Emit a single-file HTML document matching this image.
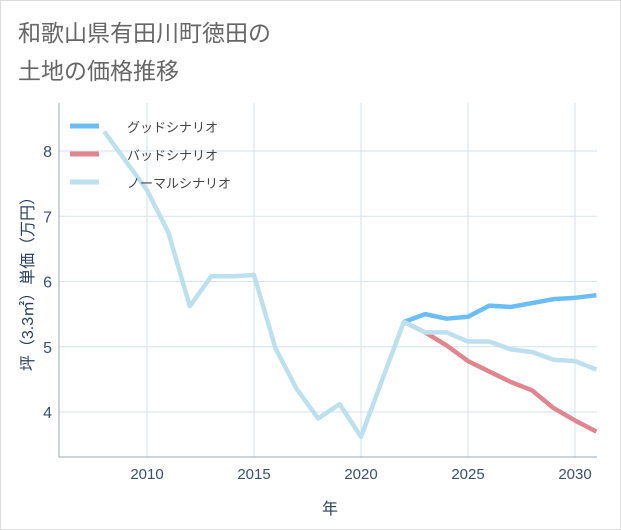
<!DOCTYPE html>
<html><head><meta charset="utf-8"><style>
body{margin:0;background:#fff;font-family:"Liberation Sans","Noto Sans CJK JP",sans-serif}
#wrap{position:relative;width:621px;height:530px;box-sizing:border-box;border:1px solid #ddd;background:#fff}
</style></head><body>
<div id="wrap">
<svg id="chart" width="621" height="530" style="position:absolute;left:-1px;top:-1px">
<text x="18" y="41" font-size="23" fill="#666">和歌山県有田川町徳田の</text>
<text x="18" y="79" font-size="23" fill="#666">土地の価格推移</text>
<g id="grid"></g><g id="series"></g><g id="axes"></g>
<text x="330" y="514" font-size="16" fill="#2a3f5f" text-anchor="middle">年</text>
<text transform="translate(33,280) rotate(-90)" font-size="16" fill="#2a3f5f" text-anchor="middle">坪（3.3㎡）単価（万円）</text>
<g>
<line x1="70" y1="126" x2="99" y2="126" stroke="#6bbdf5" stroke-width="5"/>
<text x="127" y="132" font-size="13" fill="#444">グッドシナリオ</text>
<line x1="70" y1="154" x2="99" y2="154" stroke="#e0868f" stroke-width="5"/>
<text x="127" y="160" font-size="13" fill="#444">バッドシナリオ</text>
<line x1="70" y1="182" x2="99" y2="182" stroke="#bde0ee" stroke-width="5"/>
<text x="127" y="188" font-size="13" fill="#444">ノーマルシナリオ</text>
</g>
</svg></div>
<script>
const normalYears=[2008,2009,2010,2011,2012,2013,2014,2015,2016,2017,2018,2019,2020,2021,2022,2023,2024,2025,2026,2027,2028,2029,2030,2031];
const normalValues=[8.3,7.85,7.4,6.75,5.62,6.08,6.08,6.1,4.98,4.35,3.9,4.12,3.62,4.5,5.38,5.22,5.22,5.08,5.08,4.96,4.92,4.8,4.78,4.65];
const scenarioYears=[2022,2023,2024,2025,2026,2027,2028,2029,2030,2031];
const goodValues=[5.38,5.5,5.43,5.46,5.63,5.61,5.67,5.73,5.75,5.79];
const badValues=[5.38,5.22,5.02,4.78,4.62,4.46,4.33,4.06,3.87,3.7];
const xTicks=[2010,2015,2020,2025,2030];
const yTicks=[4,5,6,7,8];
const L=59,R=597,T=103,B=457;
const X=y=>147+(y-2010)*21.4;
const Y=v=>151+(8-v)*65.25;
const NS="http://www.w3.org/2000/svg";
function mk(p,t,a){const e=document.createElementNS(NS,t);for(const k in a)e.setAttribute(k,a[k]);p.appendChild(e);return e;}
const grid=document.getElementById('grid'),axes=document.getElementById('axes'),ser=document.getElementById('series');
for(const t of xTicks){
 const l=mk(grid,'line',{x1:X(t),x2:X(t),y1:T,y2:B,stroke:'#d6e2ec','stroke-width':1});
 
 
 const tx=mk(axes,'text',{x:X(t),y:479,'font-size':15,fill:'#3a4f6f','text-anchor':'middle'});tx.textContent=t;
 
 
}
for(const t of yTicks){
 const l=mk(grid,'line',{x1:L,x2:R,y1:Y(t),y2:Y(t),stroke:'#d6e2ec','stroke-width':1});
 
 
 const tx=mk(axes,'text',{x:52,y:Y(t)+6,'font-size':16,fill:'#3a4f6f','text-anchor':'end'});tx.textContent=t;
 
 
}
const ax=mk(axes,'polyline',{points:L+','+T+' '+L+','+B+' '+R+','+B,fill:'none',stroke:'#9aa8b6','stroke-width':1});


function line(xs,vs,c,name){
 const p=mk(ser,'polyline',{points:xs.map((y,i)=>X(y)+','+Y(vs[i])).join(' '),fill:'none',stroke:c,'stroke-width':4.5,'stroke-linejoin':'round'});
 
 
}
line(scenarioYears,goodValues,'#6bbdf5','good-scenario-line');
line(scenarioYears,badValues,'#e0868f','bad-scenario-line');
line(normalYears,normalValues,'#bde0ee','normal-scenario-line');
</script>
</body></html>
